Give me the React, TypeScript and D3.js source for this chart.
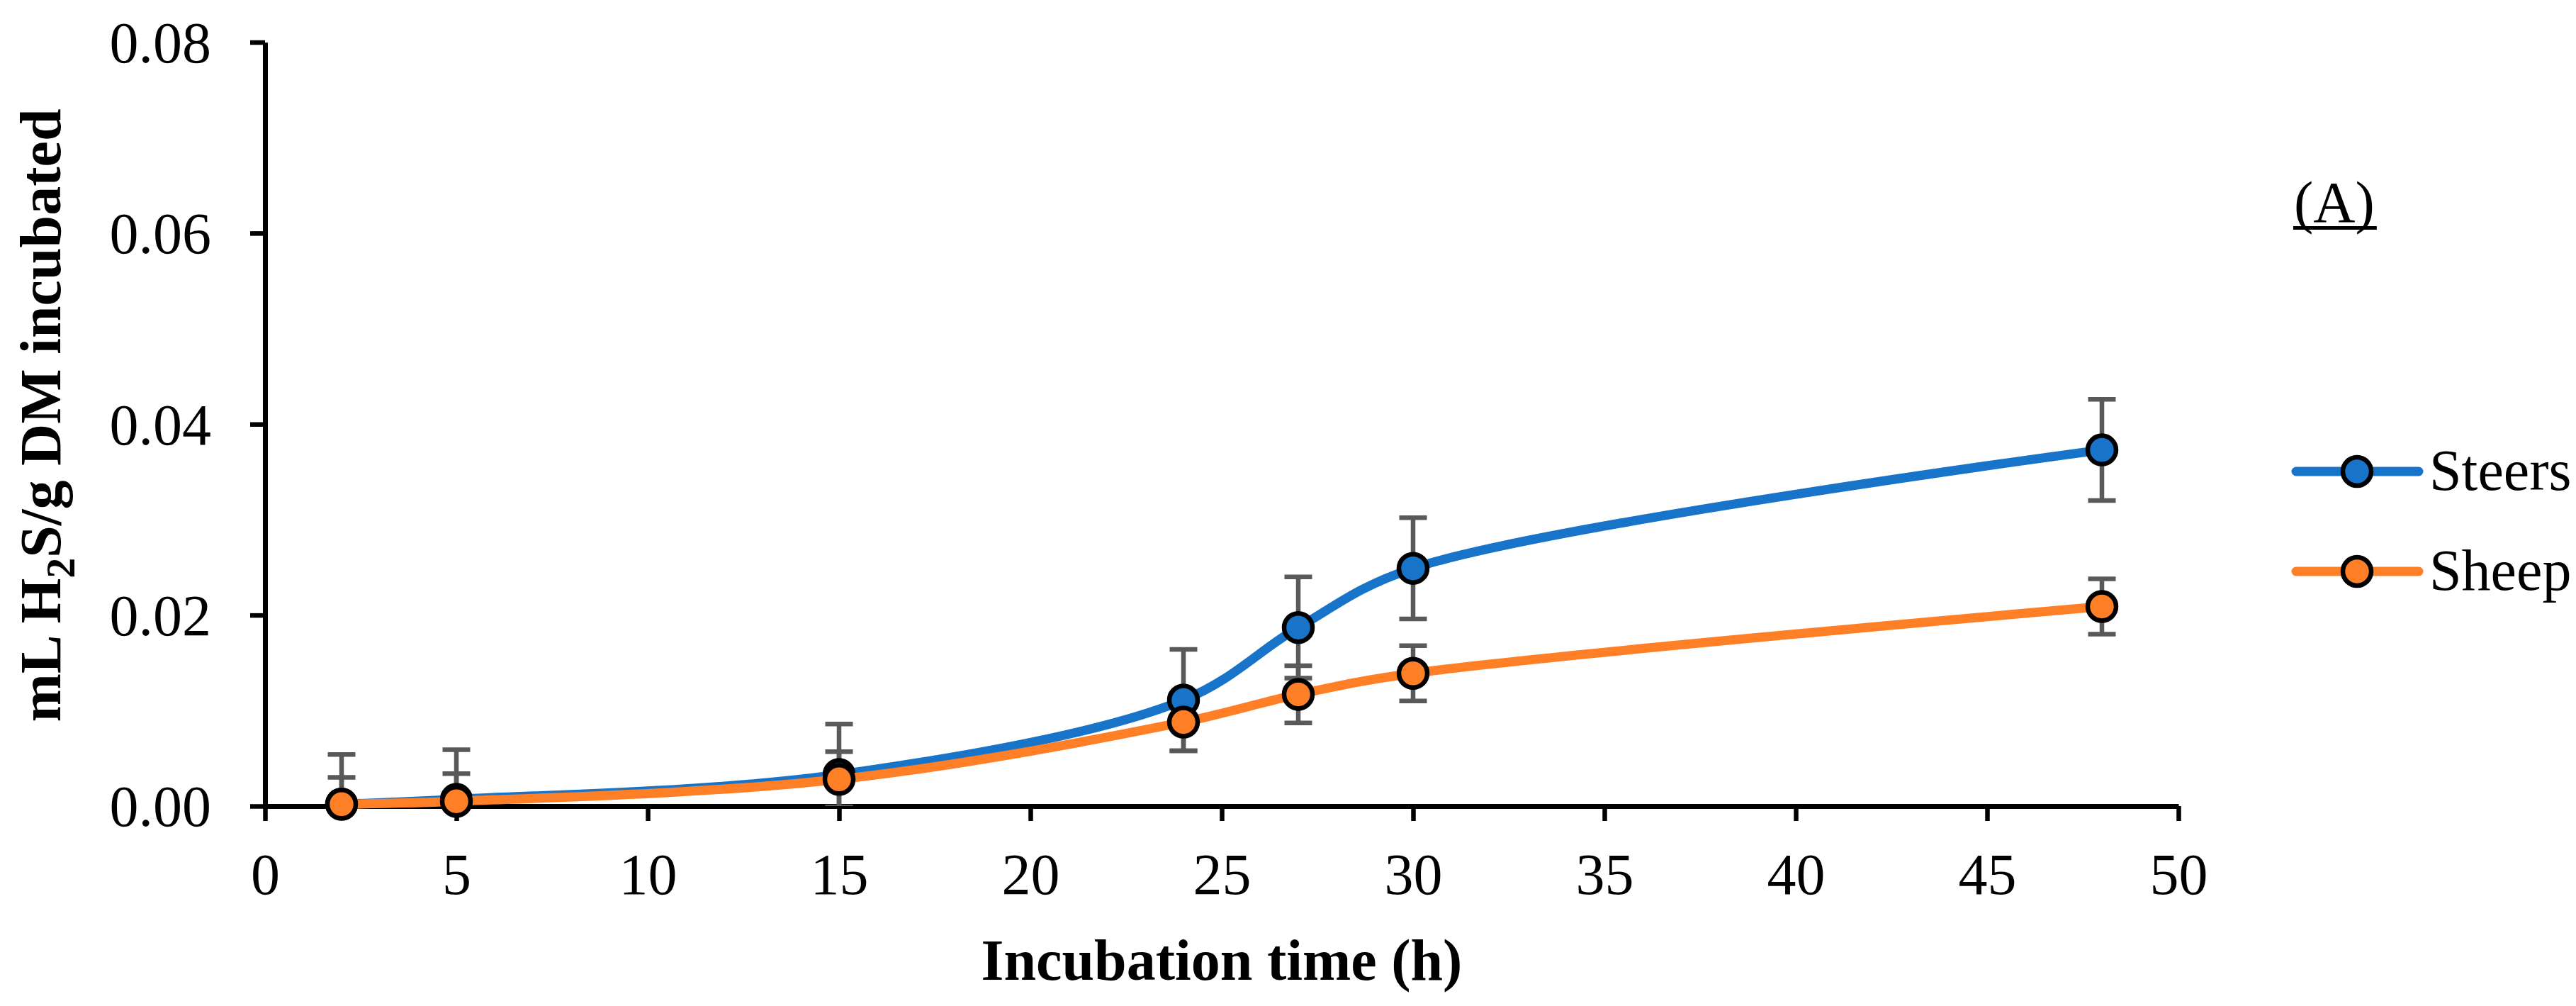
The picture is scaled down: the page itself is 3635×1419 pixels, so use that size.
import { useEffect, useRef } from "react";
import * as d3 from "d3";

// Incubation time (h)
const horas = [2, 5, 15, 24, 27, 30, 48];
// mL H2S / g DM incubated
const steers = [0.0002, 0.0007, 0.0033, 0.0111, 0.0187, 0.0249, 0.0373];
const sheep = [0.0002, 0.0005, 0.0028, 0.0088, 0.0117, 0.0139, 0.0209];
// error bars (±)
const steersErr = [0.0052, 0.0052, 0.0053, 0.0053, 0.0053, 0.0053, 0.0053];
const sheepErr = [0.0028, 0.0029, 0.0029, 0.003, 0.003, 0.0029, 0.0029];

const xTicks = [0, 5, 10, 15, 20, 25, 30, 35, 40, 45, 50];
const yTicks = [0, 0.02, 0.04, 0.06, 0.08];

const seriesNames = ["Steers", "Sheep"];
const seriesColors = ["#1874C8", "#FF7F27"];

const ANCHO = 3635;
const ALTO = 1419;
const FONT = "'Liberation Serif', 'Times New Roman', serif";

export default function App() {
  const svgRef = useRef<SVGSVGElement>(null);

  useEffect(() => {
    if (!svgRef.current) return;
    const svg = d3.select(svgRef.current);
    svg.selectAll("*").remove();

    const x = d3.scaleLinear().domain([0, 50]).range([374, 3074]);
    const y = d3.scaleLinear().domain([0, 0.08]).range([1137, 59.5]);

    const series = [
      { name: seriesNames[0], color: seriesColors[0], values: steers, err: steersErr },
      { name: seriesNames[1], color: seriesColors[1], values: sheep, err: sheepErr },
    ];

    svg
      .append("defs")
      .append("clipPath")
      .attr("id", "plotClip")
      .append("rect")
      .attr("x", x(0))
      .attr("y", y(0.08))
      .attr("width", x(50) - x(0))
      .attr("height", y(0) - y(0.08));

    // axes
    const gx = svg
      .append("g")
      .attr("transform", `translate(0,${y(0)})`)
      .call(
        d3
          .axisBottom(x)
          .tickValues(xTicks)
          .tickSize(21)
          .tickSizeOuter(0)
          .tickFormat((d) => String(d))
      );
    gx.select(".domain").attr("stroke", "#000").attr("stroke-width", 7);
    gx.selectAll(".tick line").attr("stroke", "#000").attr("stroke-width", 6.5);
    gx.selectAll(".tick text")
      .attr("y", 124)
      .attr("dy", 0)
      .attr("fill", "#000")
      .attr("font-family", FONT)
      .attr("font-size", 82);

    const gy = svg
      .append("g")
      .attr("transform", `translate(${x(0)},0)`)
      .call(
        d3
          .axisLeft(y)
          .tickValues(yTicks)
          .tickSize(21)
          .tickSizeOuter(0)
          .tickPadding(55)
          .tickFormat(d3.format(".2f"))
      );
    gy.select(".domain").attr("stroke", "#000").attr("stroke-width", 7);
    gy.selectAll(".tick line").attr("stroke", "#000").attr("stroke-width", 6.5);
    gy.selectAll(".tick text")
      .attr("dy", "0.34em")
      .attr("fill", "#000")
      .attr("font-family", FONT)
      .attr("font-size", 82);
    svg.selectAll(".domain, .tick line").attr("stroke-linecap", "butt");

    // error bars
    const plot = svg.append("g").attr("clip-path", "url(#plotClip)");
    series.forEach((s) => {
      const eb = plot
        .append("g")
        .attr("stroke", "#595959")
        .attr("stroke-width", 6.5)
        .selectAll("g")
        .data(horas.map((h, i) => ({ h, v: s.values[i], e: s.err[i] })))
        .enter()
        .append("g");
      eb.append("line")
        .attr("x1", (d) => x(d.h))
        .attr("x2", (d) => x(d.h))
        .attr("y1", (d) => y(d.v - d.e))
        .attr("y2", (d) => y(d.v + d.e));
      [1, -1].forEach((sgn) => {
        eb.append("line")
          .attr("x1", (d) => x(d.h) - 19.5)
          .attr("x2", (d) => x(d.h) + 19.5)
          .attr("y1", (d) => y(d.v + sgn * d.e))
          .attr("y2", (d) => y(d.v + sgn * d.e));
      });
    });

    const linea = d3
      .line<number>()
      .x((_, i) => x(horas[i]))
      .y((d) => y(d))
      .curve(d3.curveCatmullRom.alpha(0.5));

    series.forEach((s) => {
      svg
        .append("path")
        .datum(s.values)
        .attr("d", linea)
        .attr("fill", "none")
        .attr("stroke", s.color)
        .attr("stroke-width", 13)
        .attr("stroke-linecap", "round")
        .attr("stroke-linejoin", "round");
      svg
        .append("g")
        .selectAll("circle")
        .data(s.values)
        .enter()
        .append("circle")
        .attr("cx", (_, i) => x(horas[i]))
        .attr("cy", (d) => y(d))
        .attr("r", 20)
        .attr("fill", s.color)
        .attr("stroke", "#000")
        .attr("stroke-width", 6.5);
    });

    // axis titles
    svg
      .append("text")
      .attr("x", (x(0) + x(50)) / 2)
      .attr("y", 1382)
      .attr("text-anchor", "middle")
      .attr("font-family", FONT)
      .attr("font-size", 82)
      .attr("font-weight", 700)
      .text("Incubation time (h)");

    const yt = svg
      .append("text")
      .attr("transform", "translate(85,586) rotate(-90)")
      .attr("text-anchor", "middle")
      .attr("font-family", FONT)
      .attr("font-size", 82)
      .attr("font-weight", 700);
    yt.append("tspan").text("mL H");
    yt.append("tspan").attr("font-size", 58).attr("dy", 20).text("2");
    yt.append("tspan").attr("dy", -20).text("S/g DM incubated");

    // panel label, underlined
    const etiqueta = svg
      .append("text")
      .attr("x", 3237)
      .attr("y", 313)
      .attr("font-family", FONT)
      .attr("font-size", 82)
      .text("(A)");
    const bb = (etiqueta.node() as SVGTextElement).getBBox();
    svg
      .append("line")
      .attr("x1", bb.x - 1)
      .attr("x2", bb.x + bb.width + 3)
      .attr("y1", 321.5)
      .attr("y2", 321.5)
      .attr("stroke", "#000")
      .attr("stroke-width", 5);

    // legend
    const legendY = [665, 806];
    series.forEach((s, i) => {
      const g = svg.append("g").attr("transform", `translate(0,${legendY[i]})`);
      g.append("line")
        .attr("x1", 3240)
        .attr("x2", 3413)
        .attr("stroke", s.color)
        .attr("stroke-width", 13)
        .attr("stroke-linecap", "round");
      g.append("circle")
        .attr("cx", 3326)
        .attr("r", 20)
        .attr("fill", s.color)
        .attr("stroke", "#000")
        .attr("stroke-width", 6.5);
      g.append("text")
        .attr("x", 3428)
        .attr("y", 26)
        .attr("font-family", FONT)
        .attr("font-size", 82)
        .text(s.name);
    });
  }, []);

  return (
    <svg
      ref={svgRef}
      width={ANCHO}
      height={ALTO}
      viewBox={`0 0 ${ANCHO} ${ALTO}`}
      style={{ position: "absolute", left: 0, top: 0, background: "#fff", display: "block" }}
    />
  );
}
